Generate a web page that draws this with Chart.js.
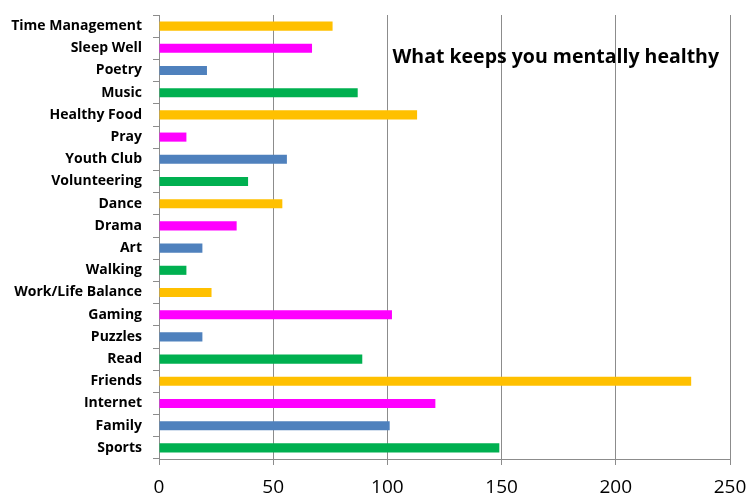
<!DOCTYPE html>
<html>
<head>
<meta charset="utf-8">
<script src="https://cdn.jsdelivr.net/npm/chart.js@4"></script>
<style>
  html, body { margin: 0; padding: 0; background: #fff; }
  #wrap { width: 747px; height: 494px; }
</style>
</head>
<body>
<div id="wrap"><canvas id="chart" width="747" height="494"></canvas></div>
<script>
const categories = [
  "Time Management", "Sleep Well", "Poetry", "Music", "Healthy Food",
  "Pray", "Youth Club", "Volunteering", "Dance", "Drama",
  "Art", "Walking", "Work/Life Balance", "Gaming", "Puzzles",
  "Read", "Friends", "Internet", "Family", "Sports"
];
const votes = [
  76, 67, 21, 87, 113,
  12, 56, 39, 54, 34,
  19, 12, 23, 102, 19,
  89, 233, 121, 101, 149
];
const xTicks = [0, 50, 100, 150, 200, 250];
const chartTitle = "What keeps you mentally healthy";

// colours repeat orange, magenta, blue, green from the top
const palette = ["#FFC000", "#FF00FF", "#4F81BD", "#00B050"];
const barColors = categories.map((_, i) => palette[i % palette.length]);

const titlePlugin = {
  id: "innerTitle",
  afterDraw(chart) {
    const { ctx, chartArea } = chart;
    ctx.save();
    ctx.font = "bold 19.5px 'Open Sans'";
    ctx.fillStyle = "#000";
    ctx.textAlign = "right";
    ctx.textBaseline = "middle";
    ctx.fillText(chartTitle, chartArea.right - 11, 57);
    ctx.restore();
  }
};

new Chart(document.getElementById("chart").getContext("2d"), {
  type: "bar",
  data: {
    labels: categories,
    datasets: [{
      data: votes,
      backgroundColor: barColors,
      barPercentage: 0.41,
      categoryPercentage: 1.0
    }]
  },
  options: {
    indexAxis: "y",
    responsive: false,
    animation: false,
    layout: { padding: { top: 15, right: 17, left: 0, bottom: 0 } },
    plugins: {
      legend: { display: false },
      tooltip: { enabled: false }
    },
    scales: {
      x: {
        min: 0,
        max: 250,
        afterBuildTicks(axis) {
          axis.ticks = xTicks.map(v => ({ value: v }));
        },
        afterFit(axis) {
          // let the end labels run into the margins
          axis.height = 35;
          axis.paddingLeft = 0;
          axis.paddingRight = 0;
        },
        grid: { color: "#8c8c8c", lineWidth: 1, tickLength: 6 },
        border: { color: "#8c8c8c" },
        ticks: {
          color: "#000",
          padding: 11,
          font: { family: "'Open Sans'", size: 19 }
        }
      },
      y: {
        afterFit(axis) {
          axis.width = 159;
          axis.paddingTop = 0;
          axis.paddingBottom = 0;
        },
        grid: {
          drawOnChartArea: false,
          color: "#8c8c8c",
          tickLength: 6,
          offset: true
        },
        border: { color: "#8c8c8c" },
        ticks: {
          color: "#000",
          padding: 11,
          font: { family: "'Open Sans'", size: 14, weight: "bold" }
        }
      }
    }
  },
  plugins: [titlePlugin]
});
</script>
</body>
</html>
